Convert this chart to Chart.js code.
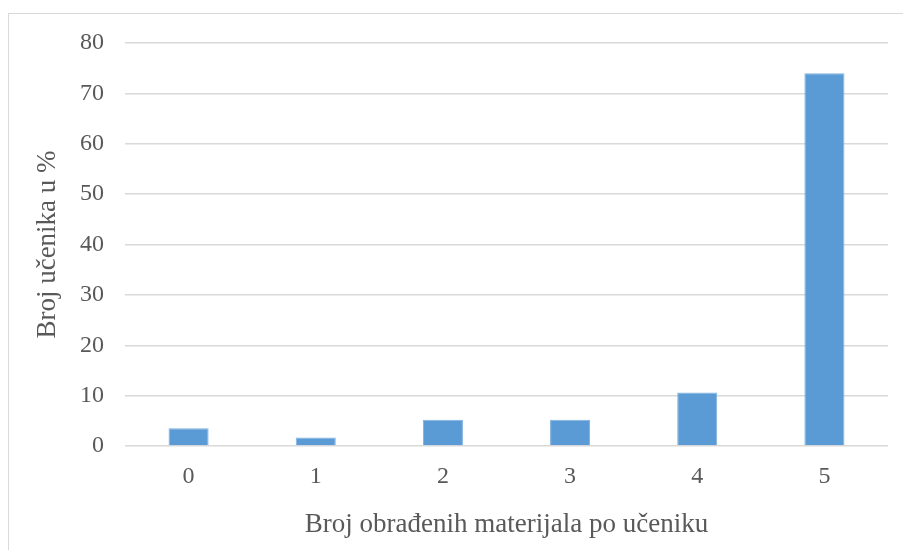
<!DOCTYPE html>
<html>
<head>
<meta charset="utf-8">
<script src="https://cdn.jsdelivr.net/npm/chart.js@4"></script>
<style>
  html, body { margin: 0; padding: 0; background: #fff; }
  #frame {
    position: absolute; left: 8px; top: 13px; width: 920px; height: 560px;
    border: 1.5px solid #d9d9d9; box-sizing: border-box;
  }
  #wrap { position: absolute; left: 0; top: 0; width: 903px; height: 550px; }
</style>
</head>
<body>
<div id="frame"></div>
<div id="wrap"><canvas id="chart" width="903" height="550"></canvas></div>
<script>
  const categories = ['0', '1', '2', '3', '4', '5'];
  const percentValues = [3.5, 1.7, 5.2, 5.2, 10.6, 74];
  const yTicks = [0, 10, 20, 30, 40, 50, 60, 70, 80];

  const gray = '#595959';
  const serif = "'Liberation Serif', 'Times New Roman', serif";

  new Chart(document.getElementById('chart'), {
    type: 'bar',
    data: {
      labels: categories,
      datasets: [{
        data: percentValues,
        backgroundColor: '#5b9bd5',
        borderColor: '#7fb1de',
        borderWidth: 1,
        borderSkipped: 'bottom',
        barPercentage: 0.315,
        categoryPercentage: 1
      }]
    },
    options: {
      responsive: false,
      animation: false,
      layout: { padding: { left: 29, right: 15, top: 43, bottom: 8 } },
      plugins: {
        legend: { display: false },
        tooltip: { enabled: false }
      },
      scales: {
        x: {
          afterFit: s => { s.height = 96; },
          grid: { display: false },
          border: { display: false },
          ticks: { color: gray, font: { family: serif, size: 24 }, padding: 8 },
          title: {
            display: true,
            text: 'Broj obrađenih materijala po učeniku',
            color: gray,
            font: { family: serif, size: 27 },
            padding: { top: 0, bottom: 1 }
          }
        },
        y: {
          min: 0,
          max: 80,
          afterFit: s => { s.width = 96; },
          afterBuildTicks: scale => { scale.ticks = yTicks.map(v => ({ value: v })); },
          grid: { color: '#d9d9d9', lineWidth: 1.5, drawTicks: false },
          border: { display: false },
          ticks: { color: gray, font: { family: serif, size: 24 }, padding: 21 },
          title: {
            display: true,
            text: 'Broj učenika u %',
            color: gray,
            font: { family: serif, size: 27 },
            padding: { top: 3, bottom: 0 }
          }
        }
      }
    }
  });
</script>
</body>
</html>
